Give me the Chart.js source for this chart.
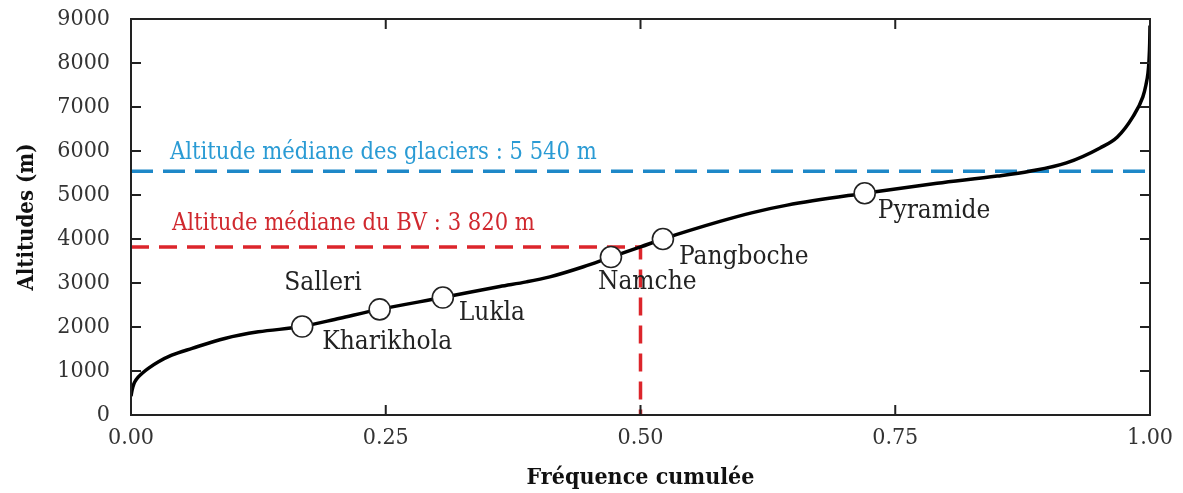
<!DOCTYPE html>
<html>
<head>
<meta charset="utf-8">
<script src="https://cdn.jsdelivr.net/npm/chart.js@4/dist/chart.umd.min.js"></script>
<style>
  html, body { margin: 0; padding: 0; background: #fff; }
  #wrap { width: 1183px; height: 493px; }
</style>
</head>
<body>
<div id="wrap"><canvas id="c" width="1183" height="493"></canvas></div>
<script>
// ---- Data ----
const curveFreq = [0, 0.001, 0.003, 0.005, 0.007, 0.011, 0.017, 0.027, 0.04, 0.06, 0.092, 0.125, 0.168, 0.205, 0.244, 0.306, 0.362, 0.388, 0.411, 0.444, 0.471, 0.5, 0.522, 0.578, 0.61, 0.644, 0.72, 0.791, 0.85, 0.882, 0.918, 0.951, 0.968, 0.983, 0.993, 0.996, 0.998, 0.999, 0.9997, 1.0];
const curveAlt  = [430, 560, 720, 800, 860, 950, 1060, 1210, 1360, 1515, 1740, 1890, 2010, 2200, 2400, 2670, 2920, 3025, 3140, 3370, 3590, 3820, 4000, 4400, 4600, 4770, 5040, 5265, 5430, 5540, 5730, 6070, 6320, 6770, 7230, 7500, 7770, 8050, 8450, 8850];

const siteNames = ['Kharikhola', 'Salleri', 'Lukla', 'Namche', 'Pangboche', 'Pyramide'];
const siteFreq  = [0.168, 0.244, 0.306, 0.471, 0.522, 0.72];
const siteAlt   = [2010, 2400, 2670, 3590, 4000, 5040];

const glacierMedian = 5540;
const basinMedian = 3820;
const basinMedianFreq = 0.5;
const glacierLabel = 'Altitude médiane des glaciers : 5 540 m';
const basinLabel = 'Altitude médiane du BV : 3 820 m';

const xTicks = [0, 0.25, 0.5, 0.75, 1.0];
const yTicks = [0, 1000, 2000, 3000, 4000, 5000, 6000, 7000, 8000, 9000];

// ---- Styles (label offsets in px relative to marker) ----
const siteLabelStyle = [
  { dx: 20, dy: 16, align: 'left' },
  { dx: -18, dy: -26, align: 'right' },
  { dx: 16, dy: 16, align: 'left' },
  { dx: -13, dy: 25, align: 'left' },
  { dx: 16, dy: 18, align: 'left' },
  { dx: 13, dy: 18, align: 'left' }
];
const SERIF = '"DejaVu Serif Condensed", "DejaVu Serif", serif';
const BLUE_LINE = '#1e88c8';
const BLUE_TEXT = '#2a9bd4';
const RED_LINE = '#dc252b';
const RED_TEXT = '#d0282e';

const curve = curveFreq.map((f, i) => ({ x: f, y: curveAlt[i] }));
const sites = siteFreq.map((f, i) => ({ x: f, y: siteAlt[i] }));

const framePlugin = {
  id: 'frame',
  afterDraw(chart) {
    const { ctx, chartArea: a, scales } = chart;
    const xs = scales.x, ys = scales.y;
    ctx.save();
    ctx.strokeStyle = '#222';
    ctx.lineWidth = 2;
    ctx.strokeRect(a.left, a.top, a.right - a.left, a.bottom - a.top);
    const L = 10;
    ctx.beginPath();
    xTicks.forEach(v => {
      const px = xs.getPixelForValue(v);
      ctx.moveTo(px, a.bottom); ctx.lineTo(px, a.bottom - L);
      ctx.moveTo(px, a.top); ctx.lineTo(px, a.top + L);
    });
    yTicks.forEach(v => {
      const py = ys.getPixelForValue(v);
      ctx.moveTo(a.left, py); ctx.lineTo(a.left + L, py);
      ctx.moveTo(a.right, py); ctx.lineTo(a.right - L, py);
    });
    ctx.stroke();
    ctx.restore();
  }
};

const labelPlugin = {
  id: 'labels',
  afterDatasetsDraw(chart) {
    const { ctx, scales } = chart;
    const xs = scales.x, ys = scales.y;
    ctx.save();
    ctx.textBaseline = 'middle';
    ctx.font = '26px ' + SERIF;
    ctx.fillStyle = '#222';
    siteNames.forEach((n, i) => {
      const s = siteLabelStyle[i];
      ctx.textAlign = s.align;
      ctx.fillText(n, xs.getPixelForValue(siteFreq[i]) + s.dx, ys.getPixelForValue(siteAlt[i]) + s.dy);
    });
    ctx.font = '23.5px ' + SERIF;
    ctx.textAlign = 'left';
    ctx.fillStyle = BLUE_TEXT;
    ctx.fillText(glacierLabel, xs.getPixelForValue(0) + 39, ys.getPixelForValue(glacierMedian) - 18);
    ctx.fillStyle = RED_TEXT;
    ctx.fillText(basinLabel, xs.getPixelForValue(0) + 41, ys.getPixelForValue(basinMedian) - 23);
    ctx.restore();
  }
};

new Chart(document.getElementById('c'), {
  type: 'scatter',
  data: {
    datasets: [
      {
        label: 'sites', data: sites, order: 0,
        pointRadius: 10.5, pointBackgroundColor: '#fff', pointBorderColor: '#222', pointBorderWidth: 1.6,
        showLine: false
      },
      {
        label: 'curve', data: curve, order: 1, showLine: true,
        borderColor: '#000', borderWidth: 3.5, pointRadius: 0,
        cubicInterpolationMode: 'monotone'
      },
      {
        label: 'glacier', data: [{ x: 0, y: glacierMedian }, { x: 1, y: glacierMedian }], order: 2, showLine: true,
        borderColor: BLUE_LINE, borderWidth: 3.5, borderDash: [22, 10], pointRadius: 0
      },
      {
        label: 'basin', data: [{ x: 0, y: basinMedian }, { x: basinMedianFreq, y: basinMedian }, { x: basinMedianFreq, y: 0 }], order: 2, showLine: true,
        borderColor: RED_LINE, borderWidth: 3.5, borderDash: [18, 10], pointRadius: 0
      }
    ]
  },
  options: {
    responsive: false,
    animation: false,
    events: [],
    layout: { padding: { left: 0, top: 19, right: 33, bottom: 0 } },
    plugins: { legend: { display: false }, tooltip: { enabled: false } },
    scales: {
      x: {
        type: 'linear', min: 0, max: 1,
        afterBuildTicks: s => { s.ticks = xTicks.map(v => ({ value: v })); },
        afterFit: s => { s.height = 78; },
        grid: { display: false, drawTicks: false },
        border: { display: false },
        ticks: { color: '#333', font: { family: SERIF, size: 23 }, padding: 9, maxRotation: 0,
          callback: v => v.toFixed(2) },
        title: { display: true, text: 'Fréquence cumulée', color: '#111',
          font: { family: SERIF, size: 23, weight: 'bold' }, padding: { top: 0, bottom: 1 } }
      },
      y: {
        type: 'linear', min: 0, max: 9000,
        afterBuildTicks: s => { s.ticks = yTicks.map(v => ({ value: v })); },
        afterFit: s => { s.width = 131; s.paddingTop = 0; s.paddingBottom = 0; },
        grid: { display: false, drawTicks: false },
        border: { display: false },
        ticks: { color: '#333', font: { family: SERIF, size: 23 }, padding: 21,
          callback: v => String(v) },
        title: { display: true, text: 'Altitudes (m)', color: '#111',
          font: { family: SERIF, size: 22, weight: 'bold' }, padding: { top: 14, bottom: 0 } }
      }
    }
  },
  plugins: [framePlugin, labelPlugin]
});
</script>
</body>
</html>
